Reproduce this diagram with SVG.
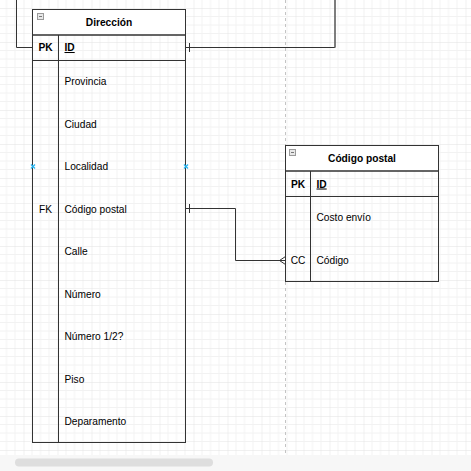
<svg xmlns="http://www.w3.org/2000/svg" width="471" height="471" viewBox="0 0 471 471">
  <defs>
    <pattern id="grid" x="23.5" y="8" width="34" height="34" patternUnits="userSpaceOnUse">
      <path d="M8.5,0V34M17,0V34M25.5,0V34M0,8.5H34M0,17H34M0,25.5H34" stroke="#f2f2f2" stroke-width="1" fill="none"/>
      <path d="M0,0V34M0,0H34" stroke="#e2e2e2" stroke-width="1" fill="none"/>
    </pattern>
    <g id="icon">
      <rect x="0.5" y="0.5" width="6" height="6" fill="#e8e8e8" stroke="#9a9a9a" stroke-width="1"/>
      <path d="M2,3.5H5" stroke="#777" stroke-width="1"/>
    </g>
  </defs>
  <style>
    .t { font-family: "Liberation Sans", Arial, sans-serif; font-size: 10.2px; fill: #000; }
    .b { font-weight: bold; }
    .box { fill: none; stroke: #333; stroke-width: 1; }
    .hdr { fill: #fff; stroke: #333; stroke-width: 1; }
    .ln { fill: none; stroke: #333; stroke-width: 1; }
    .cx { stroke: #29b6f2; stroke-width: 1.4; fill: none; }
  </style>
  <rect x="0" y="0" width="471" height="471" fill="#fff"/>
  <rect x="0" y="0" width="471" height="455" fill="url(#grid)"/>
  <line x1="285.5" y1="0" x2="285.5" y2="455" stroke="#c4c4c4" stroke-width="1" stroke-dasharray="3,3"/>
  <rect x="0" y="455" width="471" height="16" fill="#f7f7f7"/>
  <rect x="15" y="458.5" width="198" height="8" rx="4" fill="#dedede"/>

  <g id="connectors">
    <path class="ln" d="M16.5,0V47.5H32.5"/>
    <path class="ln" d="M185.5,47.5H335V0"/>
    <path d="M335,0V47.5" stroke="#777" stroke-width="1.6" fill="none"/>
    <path class="ln" d="M189.5,43V52"/>
    <path class="ln" d="M185.5,208.5H235.5V260.5H285.5"/>
    <path class="ln" d="M189.5,204V213"/>
    <path class="ln" d="M285.5,256.5L279.5,260.5L285.5,264.5"/>
  </g>

  <g id="direccion">
    <rect class="hdr" x="32.5" y="9.5" width="153" height="25.5"/>
    <rect class="box" x="32.5" y="35" width="153" height="407.5"/>
    <path class="ln" d="M32.5,60.5H185.5M58.5,35V442.5"/>
    <use href="#icon" x="37" y="13"/>
    <text class="t b" x="109" y="26" text-anchor="middle">Dirección</text>
    <text class="t b" x="45.5" y="51" text-anchor="middle">PK</text>
    <text class="t b" x="64.5" y="51" text-decoration="underline">ID</text>
    <text class="t" x="64.5" y="85">Provincia</text>
    <text class="t" x="64.5" y="127.5">Ciudad</text>
    <text class="t" x="64.5" y="170">Localidad</text>
    <text class="t" x="45.5" y="212.5" text-anchor="middle">FK</text>
    <text class="t" x="64.5" y="212.5">Código postal</text>
    <text class="t" x="64.5" y="255">Calle</text>
    <text class="t" x="64.5" y="297.5">Número</text>
    <text class="t" x="64.5" y="340">Número 1/2?</text>
    <text class="t" x="64.5" y="382.5">Piso</text>
    <text class="t" x="64.5" y="425">Deparamento</text>
    <path class="cx" d="M31,164.5L35,168.5M35,164.5L31,168.5"/>
    <path class="cx" d="M184,164.5L188,168.5M188,164.5L184,168.5"/>
  </g>

  <g id="codigo-postal">
    <rect class="hdr" x="285.5" y="145.5" width="153" height="25.5"/>
    <rect class="box" x="285.5" y="171" width="153" height="110.5"/>
    <path class="ln" d="M285.5,196.5H438.5M310.5,171V281.5"/>
    <use href="#icon" x="289" y="149"/>
    <text class="t b" x="362" y="162" text-anchor="middle">Código postal</text>
    <text class="t b" x="298" y="187.5" text-anchor="middle">PK</text>
    <text class="t b" x="316.5" y="187.5" text-decoration="underline">ID</text>
    <text class="t" x="316.5" y="221">Costo envío</text>
    <text class="t" x="298" y="264" text-anchor="middle">CC</text>
    <text class="t" x="316.5" y="264">Código</text>
  </g>
</svg>
